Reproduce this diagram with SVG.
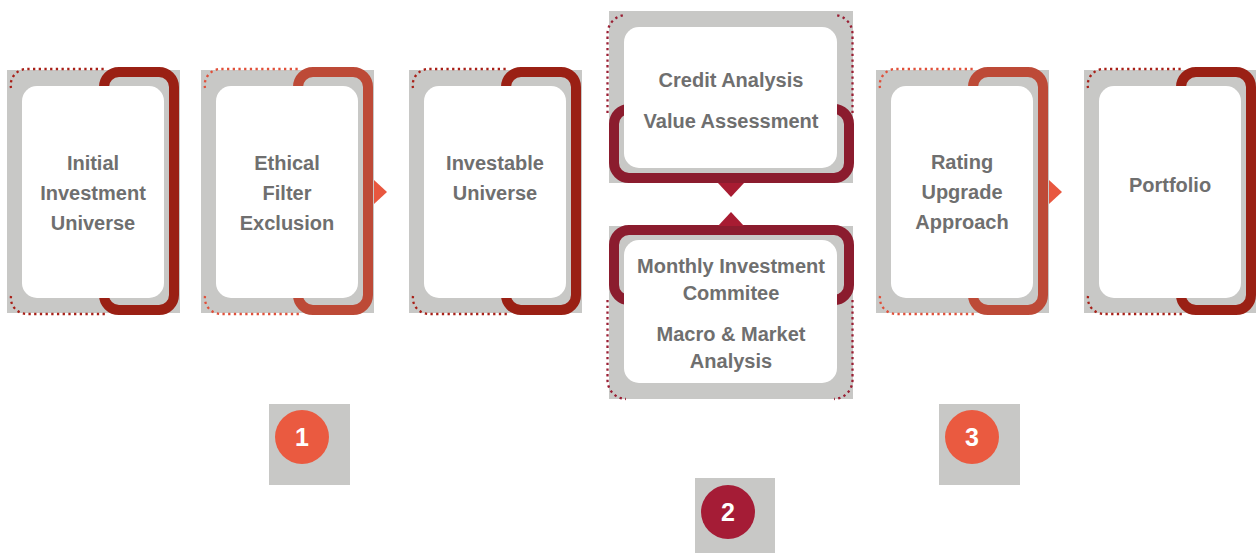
<svg xmlns="http://www.w3.org/2000/svg" width="1256" height="553" viewBox="0 0 1256 553">
<style>
.bg{fill:#c8c8c6}
.card{fill:#ffffff}
.br{fill:none;stroke-width:10}
.dk{stroke:#9a2014}
.or{stroke:#bd4a37}
.cr{stroke:#8b1c2e}
.dot{fill:none;stroke-width:2.3;stroke-dasharray:2.3 3.4}
.ddk{stroke:#a82018}
.dor{stroke:#e0503a}
.dcr{stroke:#9a1e33}
.t{font-family:"Liberation Sans",Arial,sans-serif;font-weight:bold;font-size:20px;fill:#6f6f6f;text-anchor:middle}
.n{font-family:"Liberation Sans",Arial,sans-serif;font-weight:bold;font-size:25px;fill:#ffffff;text-anchor:middle}
</style>

<g id="node-initial">
<rect class="bg" x="7" y="70" width="173" height="243"/>
<path class="dot ddk" d="M11,88 A16,16 0 0 1 27,69 H107 M11,296 A16,16 0 0 0 27,314 H107"/>
<rect class="br dk" x="104" y="72" width="70" height="238" rx="15"/>
<rect class="card" x="22" y="86" width="142" height="212" rx="15"/>
<text class="t" x="93" y="170">Initial</text>
<text class="t" x="93" y="200">Investment</text>
<text class="t" x="93" y="230">Universe</text>
</g>

<g id="node-ethical">
<rect class="bg" x="201" y="70" width="173" height="243"/>
<path class="dot dor" d="M205,88 A16,16 0 0 1 221,69 H301 M205,296 A16,16 0 0 0 221,314 H301"/>
<rect class="br or" x="298" y="72" width="70" height="238" rx="15"/>
<rect class="card" x="216" y="86" width="142" height="212" rx="15"/>
<text class="t" x="287" y="170">Ethical</text>
<text class="t" x="287" y="200">Filter</text>
<text class="t" x="287" y="230">Exclusion</text>
</g>

<g id="node-investable">
<rect class="bg" x="409" y="70" width="173" height="243"/>
<path class="dot ddk" d="M413,88 A16,16 0 0 1 429,69 H509 M413,296 A16,16 0 0 0 429,314 H509"/>
<rect class="br dk" x="506" y="72" width="70" height="238" rx="15"/>
<rect class="card" x="424" y="86" width="142" height="212" rx="15"/>
<text class="t" x="495" y="170">Investable</text>
<text class="t" x="495" y="200">Universe</text>
</g>

<g id="node-credit">
<rect class="bg" x="609" y="11" width="244" height="172"/>
<path class="dot dcr" d="M607.5,113 V34 A19,19 0 0 1 626,15 M852.5,113 V34 A19,19 0 0 0 834,15"/>
<rect class="br cr" x="614" y="109" width="235" height="69" rx="15"/>
<rect class="card" x="624" y="27" width="213" height="141" rx="15"/>
<text class="t" x="731" y="87">Credit Analysis</text>
<text class="t" x="731" y="128">Value Assessment</text>
</g>

<g id="node-committee">
<rect class="bg" x="609" y="226" width="244" height="173"/>
<path class="dot dcr" d="M607.5,300 V380 A19,19 0 0 0 626,399 M852.5,300 V380 A19,19 0 0 1 834,399"/>
<rect class="br cr" x="614" y="230" width="235" height="70" rx="15"/>
<rect class="card" x="624" y="240" width="213" height="143" rx="15"/>
<text class="t" x="731" y="273">Monthly Investment</text>
<text class="t" x="731" y="300">Commitee</text>
<text class="t" x="731" y="341">Macro &amp; Market</text>
<text class="t" x="731" y="368">Analysis</text>
</g>

<g id="node-rating">
<rect class="bg" x="876" y="70" width="173" height="243"/>
<path class="dot dor" d="M880,88 A16,16 0 0 1 896,69 H976 M880,296 A16,16 0 0 0 896,314 H976"/>
<rect class="br or" x="973" y="72" width="70" height="238" rx="15"/>
<rect class="card" x="891" y="86" width="142" height="212" rx="15"/>
<text class="t" x="962" y="169">Rating</text>
<text class="t" x="962" y="199">Upgrade</text>
<text class="t" x="962" y="229">Approach</text>
</g>

<g id="node-portfolio">
<rect class="bg" x="1084" y="70" width="173" height="243"/>
<path class="dot ddk" d="M1088,88 A16,16 0 0 1 1104,69 H1184 M1088,296 A16,16 0 0 0 1104,314 H1184"/>
<rect class="br dk" x="1181" y="72" width="70" height="238" rx="15"/>
<rect class="card" x="1099" y="86" width="142" height="212" rx="15"/>
<text class="t" x="1170" y="192">Portfolio</text>
</g>

<g id="connectors">
<polygon points="374,180 387,192 374,204" fill="#e8573f"/>
<polygon points="1049,180 1062,192 1049,204" fill="#e8573f"/>
<polygon points="718,183 744,183 731,197" fill="#a81c32"/>
<polygon points="718,226 744,226 731,212" fill="#a81c32"/>
</g>

<g id="step-1">
<rect class="bg" x="269" y="404" width="81" height="81"/>
<circle cx="302" cy="437" r="27" fill="#ea5a40"/>
<text class="n" x="302" y="446">1</text>
</g>
<g id="step-2">
<rect class="bg" x="695" y="478" width="80" height="75"/>
<circle cx="728" cy="512" r="27" fill="#a51c36"/>
<text class="n" x="728" y="521">2</text>
</g>
<g id="step-3">
<rect class="bg" x="939" y="404" width="81" height="81"/>
<circle cx="972" cy="437" r="27" fill="#ea5a40"/>
<text class="n" x="972" y="446">3</text>
</g>
</svg>
